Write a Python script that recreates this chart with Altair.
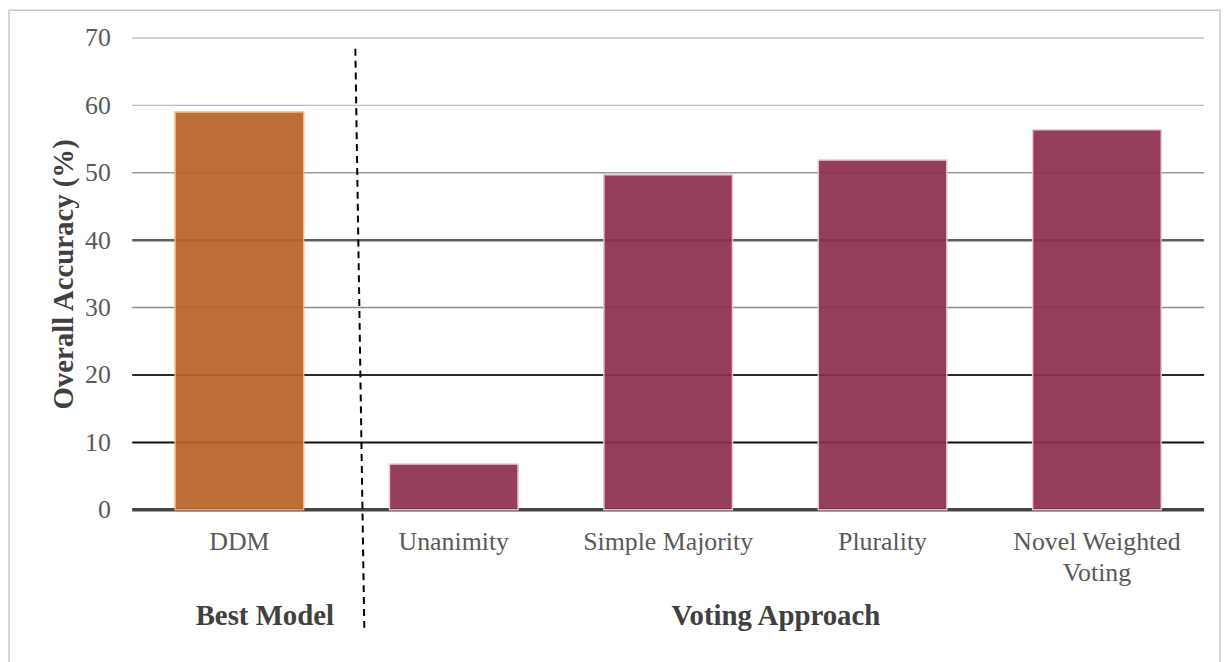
import altair as alt
import pandas as pd

# ---- data ----
categories = ["DDM", "Unanimity", "Simple Majority", "Plurality", "Novel Weighted Voting"]
accuracy = [59.0, 6.8, 49.7, 51.9, 56.4]
groups = ["Best Model", "Voting Approach", "Voting Approach", "Voting Approach", "Voting Approach"]

group_names = ["Best Model", "Voting Approach"]
group_colors = ["#B86227", "#8B2E4D"]
group_strokes = ["#F4B183", "#E8C8D2"]

grid_values = [0, 10, 20, 30, 40, 50, 60, 70]
grid_colors = ["#444444", "#111111", "#2a2a2a", "#8c8c8c", "#5f5f5f", "#9a9a9a", "#bdbdbd", "#c4c4c4"]
grid_widths = [3.5, 2, 2, 1.5, 2.5, 1.5, 1.5, 1.5]

FONT = "Liberation Serif"

df = pd.DataFrame({"category": categories, "accuracy": accuracy, "group": groups})
grid_df = pd.DataFrame({"v": grid_values, "c": grid_colors, "w": grid_widths})

xenc = alt.X(
    "category:N",
    sort=categories,
    scale=alt.Scale(paddingInner=0.4, paddingOuter=0.2),
    axis=alt.Axis(
        title=None, labelAngle=0, ticks=False, domain=False,
        labelFont=FONT, labelFontSize=26, labelColor="#595959", labelPadding=19,
        labelLimit=400, labelLineHeight=31,
        labelExpr="datum.label == 'Novel Weighted Voting' ? ['Novel Weighted', 'Voting'] : datum.label",
    ),
)
yscale = alt.Scale(domain=[0, 70], nice=False, zero=True)
yenc = alt.Y(
    "accuracy:Q",
    scale=yscale,
    axis=alt.Axis(
        title="Overall Accuracy (%)", values=grid_values, grid=False, ticks=False, domain=False,
        labelFont=FONT, labelFontSize=26, labelColor="#595959", labelPadding=22,
        titleFont=FONT, titleFontSize=29, titleFontWeight="bold", titleColor="#404040",
        titlePadding=6,
    ),
)

border = alt.Chart(pd.DataFrame({"a": [0]})).mark_rect(
    fill=None, stroke="#c8c8c8", strokeWidth=1.5
).encode(
    x=alt.value(-124), x2=alt.value(1095), y=alt.value(-28), y2=alt.value(700)
)

grid = alt.Chart(grid_df).mark_rule().encode(
    y=alt.Y("v:Q", scale=yscale),
    color=alt.Color("c:N", scale=None),
    strokeWidth=alt.StrokeWidth("w:Q", scale=None),
)

bars = alt.Chart(df).mark_bar(opacity=0.92, strokeWidth=1.5).encode(
    x=xenc,
    y=yenc,
    color=alt.Color("group:N", scale=alt.Scale(domain=group_names, range=group_colors), legend=None),
    stroke=alt.Stroke("group:N", scale=alt.Scale(domain=group_names, range=group_strokes), legend=None),
)

sep_df = pd.DataFrame({"category": ["DDM"], "top": [68.4], "bottom": [-17.5]})
sep = alt.Chart(sep_df).mark_rule(
    color="black", strokeWidth=2, strokeDash=[7, 5], xOffset=52, x2Offset=61
).encode(
    x=alt.X("category:N", sort=categories, bandPosition=1),
    x2=alt.X2("category", bandPosition=1),
    y=alt.Y("top:Q", scale=yscale),
    y2="bottom:Q",
)

lab_df = pd.DataFrame({"category": ["DDM", "Simple Majority"], "label": group_names})
best = alt.Chart(lab_df.iloc[[0]]).mark_text(
    font=FONT, fontSize=29, fontWeight="bold", color="#404040", baseline="alphabetic"
).encode(
    x=alt.X("category:N", sort=categories, bandPosition=0.698),
    y=alt.value(591),
    text="label:N",
)
voting = alt.Chart(lab_df.iloc[[1]]).mark_text(
    font=FONT, fontSize=29, fontWeight="bold", color="#404040", baseline="alphabetic", dx=43.7
).encode(
    x=alt.X("category:N", sort=categories, bandPosition=1),
    y=alt.value(591),
    text="label:N",
)

chart = alt.layer(border, grid, bars, sep, best, voting).properties(
    width=1079, height=475,
    autosize=alt.AutoSizeParams(type="none"),
    padding={"left": 125, "top": 28, "right": 18, "bottom": 151},
).configure_view(stroke=None)

chart.save("out.html", embed_options={"renderer": "svg", "actions": False})
